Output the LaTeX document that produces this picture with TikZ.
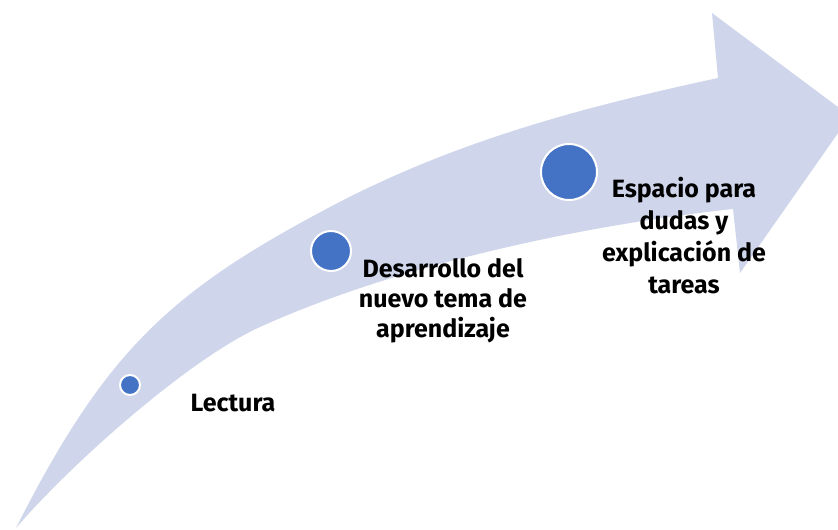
\documentclass[tikz,border=0pt]{standalone}
\usepackage{fontspec}
\setmainfont{Fira Sans}
\definecolor{arrowfill}{HTML}{CFD5EA}
\definecolor{dotblue}{HTML}{4472C4}
\begin{document}
\begin{tikzpicture}[x=1pt,y=-1pt,
  dot/.style={circle,fill=dotblue,draw=white,line width=2pt,inner sep=0pt},
  lbl/.style={font=\bfseries\fontsize{25}{30}\selectfont,align=center,inner sep=0pt,anchor=base,text=black}]
\useasboundingbox (0,0) rectangle (838,530);
\fill[arrowfill] (16,528)
  .. controls (106,350) and (171,291) .. (330,207)
  .. controls (454,141.5) and (581,107.5) .. (718,78)
  -- (712,13) -- (850,116) -- (740,273) -- (733,209)
  .. controls (584,225) and (396.5,265) .. (260,327)
  .. controls (187,360) and (68,467) .. (16,528)
  -- cycle;
\node[dot,minimum size=20pt] (c1) at (130,385) {};
\node[dot,minimum size=40pt] (c2) at (331,251) {};
\node[dot,minimum size=56pt] (c3) at (569,172) {};
\node[lbl] (t1) at (233,411) {Lectura};
\node[lbl] (t2) at (443,337) {Desarrollo del\\nuevo tema de\\aprendizaje};
\node[lbl,font=\bfseries\fontsize{25}{32}\selectfont] (t3) at (684,293) {Espacio para\\dudas y\\explicación de\\tareas};
\end{tikzpicture}
\end{document}
